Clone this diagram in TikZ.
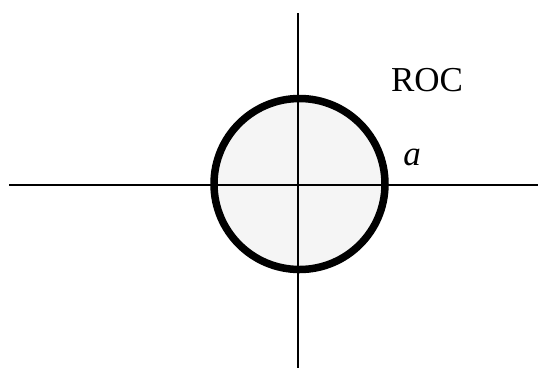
\documentclass[tikz,border=0pt]{standalone}
\usepackage{fontspec}
\setmainfont{Liberation Serif}
\begin{document}
\begin{tikzpicture}[x=1pt,y=-1pt,
  axis/.style={line width=2pt},
  roc/.style={draw, circle, line width=7.5pt, fill=black!4, minimum size=171pt, inner sep=0pt},
  lbl/.style={font=\fontsize{35}{40}\selectfont, inner sep=0pt, anchor=base}]
\useasboundingbox (0,0) rectangle (538,368);
\coordinate (c) at (299.5,184);
\node[roc] (disk) at (c) {};
\coordinate (xl) at (9,184.5);
\coordinate (xr) at (538,184.5);
\coordinate (yt) at (298,13);
\coordinate (yb) at (298,368);
\draw[axis] (xl) -- (xr);
\draw[axis] (yt) -- (yb);
\node[lbl] (roc) at (427,91.5) {ROC};
\node[lbl] (a) at (412,165) {\itshape a};
\end{tikzpicture}
\end{document}
